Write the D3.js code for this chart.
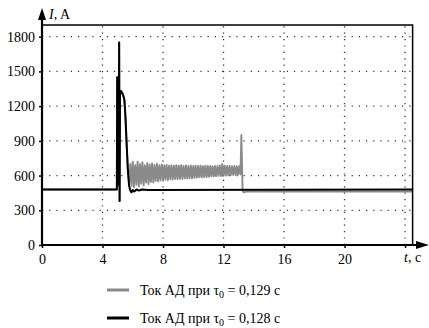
<!DOCTYPE html>
<html><head><meta charset="utf-8">
<script src="https://cdn.jsdelivr.net/npm/d3@7"></script>
<style>body{margin:0;background:#fff} svg text{font-family:"Liberation Serif","Times New Roman",serif !important;fill:#000}</style>
</head><body><svg id="c" width="429" height="328"></svg>
<script>
const yTicks = [0, 300, 600, 900, 1200, 1500, 1800];
const xTicks = [0, 4, 8, 12, 16, 20];
const xGrid = [4, 8, 12, 16, 20, 24];
const legendLabels = ["0,129", "0,128"];

// Black series: current for tau0 = 0.128 s  [t (s), I (A)]
const blackSeries = [
  [0, 480], [4.95, 480], [4.97, 1450], [4.99, 560], [5.01, 1420], [5.03, 600], [5.05, 1380],
  [5.07, 520], [5.10, 1750], [5.13, 380], [5.16, 1300], [5.22, 1330], [5.30, 1315],
  [5.38, 1290], [5.45, 1250], [5.52, 1100], [5.60, 860], [5.68, 640], [5.76, 510],
  [5.84, 470], [5.92, 455], [6.00, 475], [6.10, 462], [6.25, 480], [6.40, 470],
  [6.60, 480], [7.00, 476], [24.5, 480]
];

// Gray series: current for tau0 = 0.129 s  [t (s), I (A)]
const graySeries = [
  [0, 480], [4.95, 480], [4.97, 1450], [4.99, 560], [5.01, 1420], [5.03, 600], [5.05, 1380],
  [5.07, 520], [5.10, 1750], [5.13, 380], [5.16, 1300], [5.22, 1330], [5.30, 1315],
  [5.38, 1290], [5.45, 1250], [5.52, 1100], [5.60, 860], [5.68, 640], [5.76, 520],
  [5.84, 700], [5.92, 510], [6.00, 720], [6.08, 500], [6.16, 690], [6.24, 520],
  [6.32, 720], [6.40, 505], [6.48, 700], [6.56, 530], [6.64, 715], [6.72, 515],
  [6.80, 690], [6.88, 540], [6.96, 710], [7.04, 525], [7.12, 695], [7.20, 545],
  [7.28, 705], [7.36, 540], [7.44, 690], [7.52, 555], [7.60, 700], [7.68, 550],
  [7.76, 690], [7.84, 560], [7.92, 695], [8.00, 555], [8.08, 688], [8.16, 565],
  [8.24, 692], [8.32, 560], [8.40, 686], [8.48, 568], [8.56, 690], [8.64, 565],
  [8.72, 685], [8.80, 570], [8.88, 690], [8.96, 568], [9.04, 686], [9.12, 572],
  [9.20, 690], [9.28, 570], [9.36, 684], [9.44, 576], [9.52, 688], [9.60, 574],
  [9.68, 683], [9.76, 578], [9.84, 687], [9.92, 576], [10.00, 684], [10.08, 580],
  [10.16, 686], [10.24, 582], [10.32, 682], [10.40, 585], [10.48, 686], [10.56, 583],
  [10.64, 681], [10.72, 588], [10.80, 685], [10.88, 586], [10.96, 682], [11.04, 590],
  [11.12, 684], [11.20, 592], [11.28, 680], [11.36, 594], [11.44, 684], [11.52, 595],
  [11.60, 682], [11.68, 597], [11.76, 688], [11.84, 596], [11.92, 700], [12.00, 598],
  [12.08, 686], [12.16, 600], [12.24, 682], [12.32, 602], [12.40, 684], [12.48, 603],
  [12.56, 680], [12.64, 605], [12.72, 683], [12.80, 606], [12.88, 680], [12.96, 608],
  [13.04, 682], [13.12, 610], [13.18, 950], [13.26, 470], [13.34, 455], [13.50, 462],
  [24.5, 462]
];

const FONT = '"Liberation Serif", "Times New Roman", serif';
const svg = d3.select("#c");
const x = d3.scaleLinear().domain([0, 24.5]).range([42, 412.6]);
const y = d3.scaleLinear().domain([0, 1900]).range([245, 25.1]);
const x0 = x(0), x1 = x(24.5), y0 = y(0), y1 = y(1900);

// grid
svg.append("g").selectAll("line").data(yTicks.filter(d => d > 0)).join("line")
  .attr("x1", x0).attr("x2", x1).attr("y1", d => y(d)).attr("y2", d => y(d))
  .attr("stroke", "#333").attr("stroke-width", 1.3).attr("stroke-dasharray", "1.2,6");
svg.append("g").selectAll("line").data(xGrid).join("line")
  .attr("x1", d => x(d)).attr("x2", d => x(d)).attr("y1", y0).attr("y2", y1)
  .attr("stroke", "#333").attr("stroke-width", 1.3).attr("stroke-dasharray", "1.2,5.2");

svg.append("clipPath").attr("id", "clip").append("rect")
  .attr("x", x0).attr("y", y1).attr("width", x1 - x0).attr("height", y0 - y1);

const line = d3.line().x(d => x(d[0])).y(d => y(d[1]));
svg.append("path").datum(graySeries).attr("d", line).attr("clip-path", "url(#clip)")
  .attr("fill", "none").attr("stroke", "#8a8a8a").attr("stroke-width", 1.9).attr("stroke-linejoin", "round");
svg.append("path").datum(blackSeries).attr("d", line).attr("clip-path", "url(#clip)")
  .attr("fill", "none").attr("stroke", "#000").attr("stroke-width", 2).attr("stroke-linejoin", "round");

// frame (top, right)
svg.append("path").attr("d", `M${x0},${y1}H${x1}V${y0}`).attr("fill", "none")
  .attr("stroke", "#000").attr("stroke-width", 1.5);

// axes
const yAxis = d3.axisLeft(y).tickValues(yTicks).tickSize(3).tickFormat(d3.format("d"));
const gy = svg.append("g").attr("transform", `translate(${x0},0)`).call(yAxis)
  .attr("font-family", FONT).attr("font-size", 14);
gy.select(".domain").remove();
gy.selectAll("text").style("font-family", FONT).style("font-size", "14px").attr("dx", "-1");
gy.selectAll("line").attr("stroke-width", 1.5);

const xAxis = d3.axisBottom(x).tickValues([0].concat(xGrid)).tickSize(3)
  .tickFormat(d => xTicks.includes(d) ? d : "");
const gx = svg.append("g").attr("transform", `translate(0,${y0})`).call(xAxis)
  .attr("font-family", FONT).attr("font-size", 14);
gx.select(".domain").remove();
gx.selectAll("text").style("font-family", FONT).style("font-size", "14px").attr("dy", "0.95em");
gx.selectAll("line").attr("stroke-width", 1.5);

svg.append("line").attr("x1", x0).attr("x2", x0).attr("y1", y0 + 1).attr("y2", 16)
  .attr("stroke", "#000").attr("stroke-width", 2.2);
svg.append("line").attr("x1", x0 - 1).attr("x2", 420).attr("y1", y0).attr("y2", y0)
  .attr("stroke", "#000").attr("stroke-width", 2.2);
svg.append("path").attr("d", `M${x0},8L${x0 - 4},20L${x0 + 4},20Z`).attr("fill", "#000");
svg.append("path").attr("d", `M429,${y0}L416,${y0 - 4}L416,${y0 + 4}Z`).attr("fill", "#000");

// axis titles
const ty = svg.append("text").attr("x", 49).attr("y", 19).style("font-size", "14px");
ty.append("tspan").attr("font-style", "italic").text("I");
ty.append("tspan").text(", A");
const tx = svg.append("text").attr("x", 404).attr("y", 262).style("font-size", "14px");
tx.append("tspan").attr("font-style", "italic").text("t");
tx.append("tspan").text(", c");

// legend
const legColors = ["#8a8a8a", "#000"];
const legY = [290, 318];
legendLabels.forEach((lab, i) => {
  svg.append("line").attr("x1", 107).attr("x2", 129).attr("y1", legY[i]).attr("y2", legY[i])
    .attr("stroke", legColors[i]).attr("stroke-width", 3);
  const t = svg.append("text").attr("x", 140).attr("y", legY[i] + 5).style("font-size", "14px");
  t.append("tspan").text("Ток АД при τ");
  t.append("tspan").style("font-size", "10px").attr("dy", 3).text("0");
  t.append("tspan").attr("dy", -3).text(" = " + lab + " с");
});
</script></body></html>
